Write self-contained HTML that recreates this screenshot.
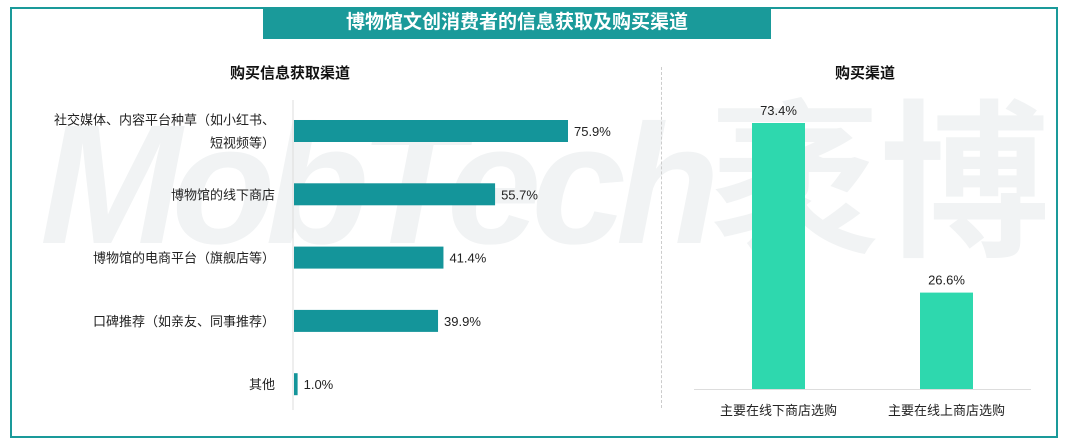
<!DOCTYPE html>
<html><head><meta charset="utf-8"><style>
body{margin:0;width:1069px;height:444px;background:#fff;position:relative;overflow:hidden;font-family:"Liberation Sans","Noto Sans CJK SC",sans-serif;}
.abs{position:absolute;}
</style></head><body>
<div class="abs" style="left:10px;top:7px;width:1044px;height:427px;border:2px solid #1a9a9a;"></div>
<div class="abs" style="left:12px;top:90px;width:1042px;height:190px;overflow:hidden;">
<div class="abs" style="left:28px;top:0px;font-size:170px;font-weight:bold;font-style:italic;color:#f1f3f4;letter-spacing:-10px;white-space:nowrap;line-height:190px;">MobTech<span style="font-style:normal;letter-spacing:0">袤博</span></div>
</div>
<div class="abs" style="left:263px;top:7px;width:508px;height:32px;background:#1a9a9a;color:#fff;font-size:19px;font-weight:bold;text-align:center;line-height:32px;">博物馆文创消费者的信息获取及购买渠道</div>
<div class="abs" style="left:200px;top:62px;width:180px;text-align:center;font-size:15px;font-weight:bold;color:#111;">购买信息获取渠道</div>
<div class="abs" style="left:800px;top:62px;width:130px;text-align:center;font-size:15px;font-weight:bold;color:#111;">购买渠道</div>
<div class="abs" style="left:661px;top:67px;height:341px;border-left:1px dashed #ccc;"></div>
<svg class="abs" style="left:0;top:0" width="1069" height="444" id="svg"></svg>
<script>
const leftCats=["社交媒体、内容平台种草（如小红书、|短视频等）","博物馆的线下商店","博物馆的电商平台（旗舰店等）","口碑推荐（如亲友、同事推荐）","其他"];
const leftVals=[75.9,55.7,41.4,39.9,1.0];
const rightCats=["主要在线下商店选购","主要在线上商店选购"];
const rightVals=[73.4,26.6];
const svg=document.getElementById('svg');
const NS='http://www.w3.org/2000/svg';
function mk(t,a,txt){const e=document.createElementNS(NS,t);for(const k in a)e.setAttribute(k,a[k]);if(txt!==undefined)e.textContent=txt;svg.appendChild(e);return e;}
const lx=v=>294+v*3.61, ly=i=>131+i*63.3;
let ax=mk('line',{x1:293,x2:293,y1:100,y2:410,stroke:'#ddd'});

leftVals.forEach((v,i)=>{
 const r=mk('rect',{x:294,y:ly(i)-11,width:lx(v)-294,height:22,fill:'#14959a'});
 
 const t=mk('text',{x:lx(v)+6,y:ly(i)+5,'font-size':13,fill:'#222'},v.toFixed(1)+'%');
 
 const parts=leftCats[i].split('|');
 parts.forEach((p,j)=>{
  const c=mk('text',{x:275,y:ly(i)+5+(j-(parts.length-1)/2)*23,'font-size':13,fill:'#222','text-anchor':'end'},p);
  
 });
});
const rb=389, ry=v=>rb-v*3.624, rx=i=>778.5+i*168;
let base=mk('line',{x1:694,x2:1031,y1:rb+0.5,y2:rb+0.5,stroke:'#ddd'});

rightVals.forEach((v,i)=>{
 const r=mk('rect',{x:rx(i)-26.5,y:ry(v),width:53,height:rb-ry(v),fill:'#2ed8ae'});
 
 const t=mk('text',{x:rx(i),y:ry(v)-8,'font-size':13,fill:'#222','text-anchor':'middle'},v.toFixed(1)+'%');
 
 const c=mk('text',{x:rx(i),y:415,'font-size':13,fill:'#222','text-anchor':'middle'},rightCats[i]);
 
});
</script>
</body></html>
